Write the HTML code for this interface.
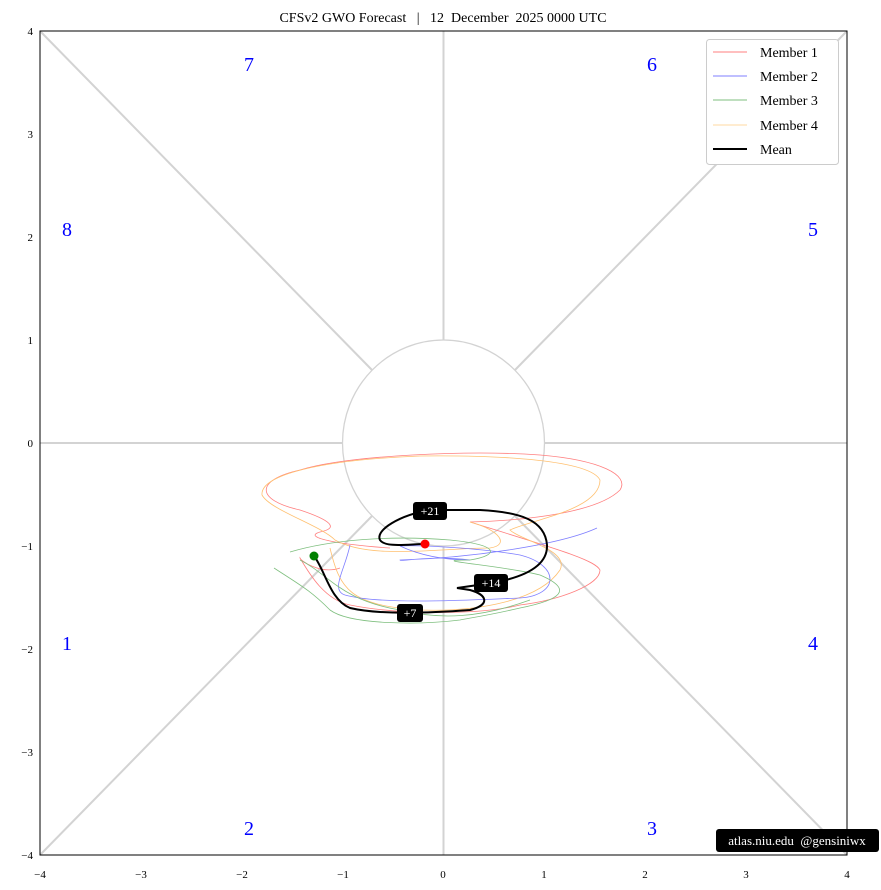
<!DOCTYPE html>
<html><head><meta charset="utf-8"><style>
body{margin:0;background:#fff;}
svg{display:block;font-family:"Liberation Serif",serif;}
</style></head><body>
<svg width="881" height="890" viewBox="0 0 881 890" xmlns="http://www.w3.org/2000/svg">
<rect width="881" height="890" fill="#fff"/>
<text x="443" y="22" font-size="14" text-anchor="middle" xml:space="preserve">CFSv2 GWO Forecast  &#160;|&#160;  12&#160; December&#160; 2025 0000 UTC</text>
<g stroke="#d3d3d3" stroke-width="2" fill="none">
<line x1="40" y1="443" x2="343" y2="443"/><line x1="544" y1="443" x2="847" y2="443"/>
<line x1="443.5" y1="31" x2="443.5" y2="340"/><line x1="443.5" y1="546" x2="443.5" y2="855"/>
<line x1="40" y1="31" x2="372" y2="370"/><line x1="847" y1="31" x2="515" y2="370"/>
<line x1="40" y1="855" x2="372" y2="516"/><line x1="847" y1="855" x2="515" y2="516"/>
</g>
<ellipse cx="443.5" cy="443" rx="101" ry="103" fill="none" stroke="#d3d3d3" stroke-width="1.3"/>
<rect x="40" y="31" width="807" height="824" fill="none" stroke="#000" stroke-width="1"/>
<g font-size="11" text-anchor="middle">
<text x="40" y="878">−4</text><text x="141" y="878">−3</text><text x="242" y="878">−2</text><text x="343" y="878">−1</text><text x="443" y="878">0</text><text x="544" y="878">1</text><text x="645" y="878">2</text><text x="746" y="878">3</text><text x="847" y="878">4</text>
</g>
<g font-size="11" text-anchor="end">
<text x="33" y="35">4</text><text x="33" y="138">3</text><text x="33" y="241">2</text><text x="33" y="344">1</text><text x="33" y="447">0</text><text x="33" y="550">−1</text><text x="33" y="653">−2</text><text x="33" y="756">−3</text><text x="33" y="859">−4</text>
</g>
<g font-size="20" fill="#0000ff" text-anchor="middle">
<text x="249" y="71">7</text><text x="652" y="71">6</text><text x="67" y="236">8</text><text x="813" y="236">5</text>
<text x="67" y="650">1</text><text x="813" y="650">4</text><text x="249" y="835">2</text><text x="652" y="835">3</text>
</g>
<g fill="none" stroke-width="0.8">
<path stroke="#ff7f7f" d="M340,568 C320,575 300,560 300,558 C310,575 325,600 350,605 C400,615 480,615 520,605 C560,600 600,585 600,570 C595,560 560,550 470,522 C540,520 600,510 620,490 C630,475 600,460 540,455 C470,450 350,455 300,470 C255,480 255,500 300,510 C330,520 340,528 320,532 C300,538 345,545 390,548"/>
<path stroke="#ffc070" d="M330,548 C340,590 350,605 420,610 C480,612 540,600 560,570 C570,550 520,540 510,530 C530,520 600,510 600,480 C590,460 500,455 420,456 C320,460 260,475 262,495 C270,510 320,525 335,540 C370,560 440,548 490,548 C510,545 500,530 470,522"/>
<path stroke="#7f7fff" d="M350,545 C345,570 330,590 345,595 C380,605 470,600 520,598 C560,595 560,565 520,555 C480,548 420,545 400,546 C430,560 460,560 470,560 C430,555 400,562 400,560 C470,558 560,545 597,528"/>
<path stroke="#7fbf7f" d="M290,552 C330,540 390,535 450,540 C500,545 500,555 470,560 C420,560 500,565 540,575 C575,590 560,600 520,608 C490,615 470,618 460,620 C420,625 350,625 330,610 C310,590 300,585 274,568"/>
<path stroke="#7fbf7f" d="M300,560 C330,575 340,600 400,610 C440,620 480,618 530,600"/>
</g>
<path d="M314,556 C325,570 330,600 350,608 C380,615 430,613 470,610 C490,605 488,595 470,590 L457,588 L492,583 C520,578 548,568 547,545 C545,520 520,512 480,510 L430,510 C400,515 375,530 380,540 C385,548 410,544 425,544" fill="none" stroke="#000" stroke-width="2"/>
<circle cx="314" cy="556" r="4.5" fill="#008000"/>
<circle cx="425" cy="544" r="4.5" fill="#ff0000"/>
<g font-size="12" fill="#fff" text-anchor="middle">
<rect x="413" y="502" width="34" height="18" rx="3" fill="#000"/><text x="430" y="515">+21</text>
<rect x="474" y="574" width="34" height="18" rx="3" fill="#000"/><text x="491" y="587">+14</text>
<rect x="397" y="604" width="26" height="18" rx="3" fill="#000"/><text x="410" y="617">+7</text>
</g>
<rect x="706.5" y="39.5" width="132" height="125" rx="3" fill="#fff" stroke="#ccc"/>
<g stroke-width="1"><line x1="713" y1="52" x2="747" y2="52" stroke="#ff7f7f"/><line x1="713" y1="76" x2="747" y2="76" stroke="#7f7fff"/><line x1="713" y1="100" x2="747" y2="100" stroke="#7fbf7f"/><line x1="713" y1="125" x2="747" y2="125" stroke="#ffd9a0"/><line x1="713" y1="149" x2="747" y2="149" stroke="#000" stroke-width="2"/></g>
<g font-size="14"><text x="760" y="57">Member 1</text><text x="760" y="81">Member 2</text><text x="760" y="105">Member 3</text><text x="760" y="130">Member 4</text><text x="760" y="154">Mean</text></g>
<rect x="716" y="829" width="163" height="23" rx="3" fill="#000"/>
<text x="797" y="845" font-size="13" fill="#fff" text-anchor="middle">atlas.niu.edu &#160;@gensiniwx</text>
</svg>
</body></html>
